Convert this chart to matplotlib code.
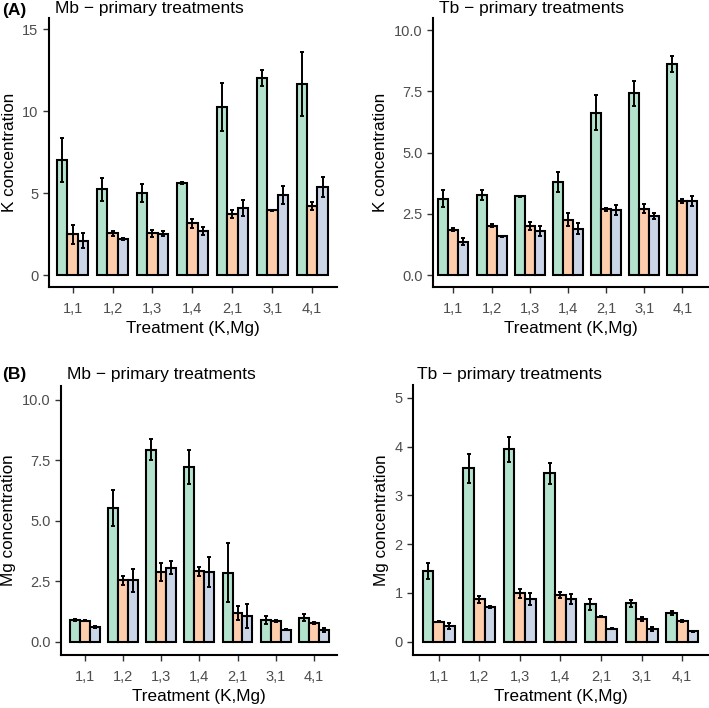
import numpy as np
import matplotlib
matplotlib.use("Agg")
import matplotlib.pyplot as plt

# =============================
# DATOS
# =============================
treatments = ["1,1", "1,2", "1,3", "1,4", "2,1", "3,1", "4,1"]
colors = ["#B3E2CD", "#FDCDAC", "#CBD5E8"]

# (A) K concentration - Mb
k_mb_1 = [7.03, 5.24, 5.00, 5.61, 10.26, 12.03, 11.65]
k_mb_1_se = [1.35, 0.70, 0.55, 0.07, 1.46, 0.48, 1.96]
k_mb_2 = [2.50, 2.56, 2.56, 3.17, 3.74, 3.98, 4.23]
k_mb_2_se = [0.60, 0.15, 0.22, 0.26, 0.25, 0.03, 0.25]
k_mb_3 = [2.11, 2.20, 2.54, 2.70, 4.10, 4.90, 5.37]
k_mb_3_se = [0.45, 0.05, 0.17, 0.24, 0.48, 0.52, 0.60]

# (A) K concentration - Tb
k_tb_1 = [3.12, 3.27, 3.22, 3.80, 6.63, 7.42, 8.61]
k_tb_1_se = [0.35, 0.22, 0.02, 0.39, 0.71, 0.51, 0.33]
k_tb_2 = [1.86, 2.02, 2.02, 2.26, 2.69, 2.72, 3.02]
k_tb_2_se = [0.07, 0.07, 0.17, 0.26, 0.07, 0.20, 0.09]
k_tb_3 = [1.37, 1.58, 1.80, 1.90, 2.65, 2.40, 3.03]
k_tb_3_se = [0.15, 0.04, 0.21, 0.22, 0.20, 0.12, 0.20]

# (B) Mg concentration - Mb
mg_mb_1 = [0.90, 5.53, 7.93, 7.23, 2.85, 0.90, 1.00]
mg_mb_1_se = [0.05, 0.73, 0.43, 0.70, 1.22, 0.17, 0.14]
mg_mb_2 = [0.88, 2.54, 2.89, 2.92, 1.20, 0.85, 0.77]
mg_mb_2_se = [0.03, 0.19, 0.37, 0.18, 0.29, 0.04, 0.05]
mg_mb_3 = [0.62, 2.54, 3.07, 2.89, 1.06, 0.51, 0.48]
mg_mb_3_se = [0.03, 0.46, 0.27, 0.63, 0.50, 0.03, 0.08]

# (B) Mg concentration - Tb
mg_tb_1 = [1.45, 3.55, 3.94, 3.45, 0.77, 0.79, 0.59]
mg_tb_1_se = [0.16, 0.29, 0.26, 0.22, 0.11, 0.07, 0.04]
mg_tb_2 = [0.41, 0.87, 0.99, 0.96, 0.51, 0.46, 0.42]
mg_tb_2_se = [0.01, 0.07, 0.10, 0.07, 0.01, 0.04, 0.02]
mg_tb_3 = [0.32, 0.72, 0.88, 0.87, 0.27, 0.27, 0.22]
mg_tb_3_se = [0.06, 0.02, 0.12, 0.10, 0.01, 0.04, 0.01]

# =============================
# FIGURA
# =============================
plt.rcParams["font.family"] = ["Liberation Sans", "DejaVu Sans"]

W, H = 709, 708
fig = plt.figure(figsize=(W / 100, H / 100), dpi=100)


def px_axes(x0, y0, x1, y1):
    return fig.add_axes([x0 / W, 1 - y1 / H, (x1 - x0) / W, (y1 - y0) / H])


def panel(ax, series, errs, ylim, yticks, yticklabels, ylabel):
    x = np.arange(1, len(treatments) + 1)
    w = 0.262
    for i, (vals, se) in enumerate(zip(series, errs)):
        xi = x + (i - 1) * w
        ax.bar(xi, vals, width=w, color=colors[i], edgecolor="black",
               linewidth=1.5, zorder=2)
        ax.errorbar(xi, vals, yerr=se, fmt="none", ecolor="black",
                    elinewidth=1.4, capsize=1.7, capthick=1.4, zorder=3)
    ax.set_xticks(x)
    ax.set_xticklabels(treatments)
    ax.set_yticks(yticks)
    ax.set_yticklabels(yticklabels)
    ax.set_ylim(*ylim)
    for s in ["top", "right"]:
        ax.spines[s].set_visible(False)
    for s in ["left", "bottom"]:
        ax.spines[s].set_linewidth(1.5)
    ax.tick_params(axis="both", labelsize=10.5, labelcolor="#4D4D4D",
                   color="#333333", length=4, width=1.0)
    ax.tick_params(axis="x", pad=6.5)
    ax.set_xlabel("Treatment (K,Mg)", fontsize=12.3, labelpad=4)
    ax.set_ylabel(ylabel, fontsize=12.3, labelpad=4)


# -------------------------
# (A) K
# -------------------------
ax1 = px_axes(49, 18, 337, 287)
panel(ax1, [k_mb_1, k_mb_2, k_mb_3], [k_mb_1_se, k_mb_2_se, k_mb_3_se],
      (-0.71, 15.69), [0, 5, 10, 15], ["0", "5", "10", "15"], "K concentration")
ax1.set_xlim(0.41, 7.62)

ax2 = px_axes(433, 18, 709, 287)
panel(ax2, [k_tb_1, k_tb_2, k_tb_3], [k_tb_1_se, k_tb_2_se, k_tb_3_se],
      (-0.48, 10.49), [0, 2.5, 5, 7.5, 10],
      ["0.0", "2.5", "5.0", "7.5", "10.0"], "K concentration")
ax2.set_xlim(0.465, 7.7)

# -------------------------
# (B) Mg
# -------------------------
ax3 = px_axes(61, 386, 337, 655)
panel(ax3, [mg_mb_1, mg_mb_2, mg_mb_3], [mg_mb_1_se, mg_mb_2_se, mg_mb_3_se],
      (-0.54, 10.56), [0, 2.5, 5, 7.5, 10],
      ["0.0", "2.5", "5.0", "7.5", "10.0"], "Mg concentration")
ax3.set_xlim(0.37, 7.61)

ax4 = px_axes(413, 385, 709, 655)
panel(ax4, [mg_tb_1, mg_tb_2, mg_tb_3], [mg_tb_1_se, mg_tb_2_se, mg_tb_3_se],
      (-0.27, 5.26), [0, 1, 2, 3, 4, 5],
      ["0", "1", "2", "3", "4", "5"], "Mg concentration")
ax4.set_xlim(0.37, 7.66)

# -------------------------
# TÍTULOS
# -------------------------
def ftext(x, y, s, **kw):
    fig.text(x / W, 1 - y / H, s, va="center", ha="left", **kw)


ftext(2, 10, "(A)", fontsize=12.5, fontweight="bold")
ftext(2, 374, "(B)", fontsize=12.5, fontweight="bold")
ftext(55, 8, "Mb \u2212 primary treatments", fontsize=12.5)
ftext(439, 8, "Tb \u2212 primary treatments", fontsize=12.5)
ftext(67, 374, "Mb \u2212 primary treatments", fontsize=12.5)
ftext(417, 374, "Tb \u2212 primary treatments", fontsize=12.5)

fig.savefig("out.png", dpi=100)
